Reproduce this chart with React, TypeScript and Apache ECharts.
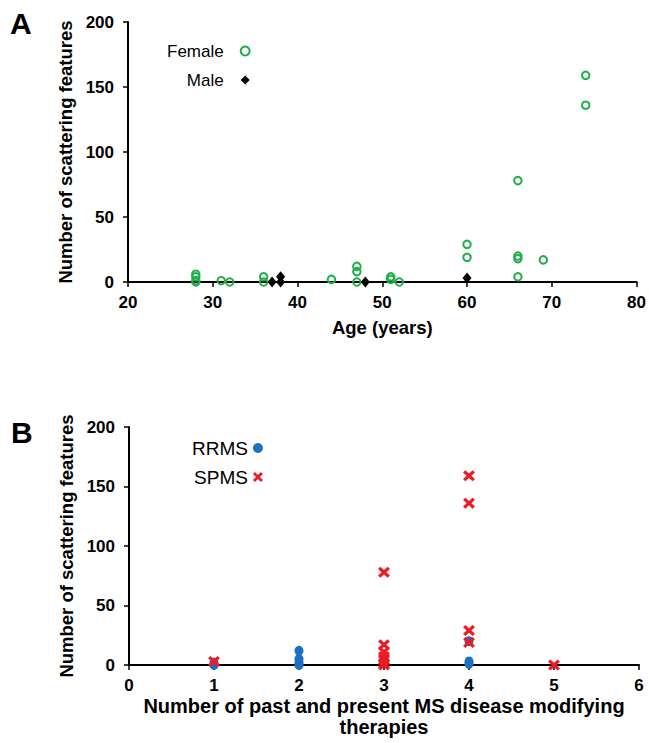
import React, { useEffect, useRef } from 'react';
import * as echarts from 'echarts';

// Panel A: age vs number of scattering features
const femaleAge = [28, 28, 28, 28, 31, 32, 36, 36, 44, 47, 47, 47, 51, 51, 52, 60, 60, 66, 66, 66, 66, 69, 74, 74];
const femaleCount = [6, 4, 1, 0, 1, 0, 4, 0, 2, 12, 8, 0, 4, 2, 0, 29, 19, 78, 20, 18, 4, 17, 159, 136];
const maleAge = [37, 38, 38, 48, 60];
const maleCount = [0, 4, 0, 0, 3];

// Panel B: number of therapies vs number of scattering features
const rrmsTherapies = [1, 1, 2, 2, 2, 2, 4, 4, 4];
const rrmsCount = [2, 0, 12, 5, 2, 0, 20, 3, 1];
const spmsTherapies = [1, 3, 3, 3, 3, 3, 3, 3, 4, 4, 4, 4, 5];
const spmsCount = [3, 78, 17, 11, 7, 4, 1, 0, 159, 136, 29, 19, 0];

const seriesNames = ['Female', 'Male', 'RRMS', 'SPMS'];
const panelLabels = ['A', 'B'];
const ageAxisName = 'Age (years)';
const therapyAxisName = 'Number of past and present MS disease modifying\ntherapies';
const countAxisName = 'Number of scattering features';

const FONT = '"Liberation Sans", Arial, Helvetica, sans-serif';
const GREEN = '#1fae4b';
const BLUE = '#1b70bf';
const RED = '#ec1c24';
const CROSS = 'path://M0,2 L2,0 L5,3 L8,0 L10,2 L7,5 L10,8 L8,10 L5,7 L2,10 L0,8 L3,5 Z';

const zip = (xs: number[], ys: number[]) => xs.map((x, i) => [x, ys[i]]);

export default function App() {
  const ref = useRef<HTMLDivElement>(null);
  useEffect(() => {
    if (!ref.current) return;
    const chart = echarts.init(ref.current, undefined, { renderer: 'svg' });
    const tickLabel = (margin: number) => ({
      color: '#000', fontSize: 17, fontWeight: 'bold', fontFamily: FONT, margin,
      formatter: '{b|{value}}',
      rich: { b: { color: '#000', fontSize: 17, fontWeight: 'bold', fontFamily: FONT } },
    });
    const axisCommon = {
      type: 'value' as const,
      splitLine: { show: false },
      axisLine: { show: true, onZero: false, lineStyle: { color: '#000', width: 2 } },
      axisTick: { show: true, length: 5, lineStyle: { color: '#000', width: 1.5 } },
      nameLocation: 'middle' as const,
      nameTextStyle: { color: '#000', fontSize: 18.5, fontWeight: 'bold', fontFamily: FONT },
    };
    chart.setOption({
      animation: false,
      backgroundColor: '#fff',
      textStyle: { fontFamily: FONT },
      graphic: [
        { type: 'text', left: 10, top: 8, style: { text: panelLabels[0], font: `bold 30px ${FONT}`, fill: '#000' } },
        { type: 'text', left: 11, top: 417, style: { text: panelLabels[1], font: `bold 30px ${FONT}`, fill: '#000' } },
      ],
      grid: [
        { left: 128, right: 12, top: 22, bottom: 461 },
        { left: 129, right: 10, top: 427, bottom: 78 },
      ],
      xAxis: [
        { ...axisCommon, gridIndex: 0, min: 20, max: 80, interval: 10, name: ageAxisName, nameGap: 36,
          axisLabel: tickLabel(12) },
        { ...axisCommon, gridIndex: 1, min: 0, max: 6, interval: 1, name: therapyAxisName, nameGap: 30,
          axisLabel: tickLabel(12),
          nameTextStyle: { ...axisCommon.nameTextStyle, fontSize: 20, lineHeight: 21 } },
      ],
      yAxis: [
        { ...axisCommon, gridIndex: 0, min: 0, max: 200, interval: 50, name: countAxisName, nameGap: 49,
          axisLabel: tickLabel(14) },
        { ...axisCommon, gridIndex: 1, min: 0, max: 200, interval: 50, name: countAxisName, nameGap: 49,
          axisLabel: tickLabel(14) },
      ],
      legend: [
        {
          orient: 'vertical', align: 'right', left: 162, top: 36, itemWidth: 9, itemHeight: 9, itemGap: 9,
          selectedMode: false,
          textStyle: { color: '#000', fontSize: 17, fontFamily: FONT, lineHeight: 20, padding: [0, 12, 0, 0] },
          data: [
            { name: seriesNames[0], icon: 'circle', itemStyle: { color: 'rgba(0,0,0,0)', borderColor: GREEN, borderWidth: 2 } },
            { name: seriesNames[1], icon: 'diamond', itemStyle: { color: '#000', borderWidth: 0 } },
          ],
        },
        {
          orient: 'vertical', align: 'right', left: 187, top: 433, itemWidth: 10, itemHeight: 10, itemGap: 9,
          selectedMode: false,
          textStyle: { color: '#000', fontSize: 19, fontFamily: FONT, lineHeight: 20 },
          data: [
            { name: seriesNames[2], icon: 'circle', itemStyle: { color: BLUE, borderWidth: 0 } },
            { name: seriesNames[3], icon: CROSS, itemStyle: { color: RED, borderWidth: 0 } },
          ],
        },
      ],
      series: [
        {
          name: seriesNames[0], type: 'scatter', xAxisIndex: 0, yAxisIndex: 0,
          data: zip(femaleAge, femaleCount), symbol: 'circle', symbolSize: 7.5,
          itemStyle: { color: 'rgba(0,0,0,0)', borderColor: GREEN, borderWidth: 2, opacity: 1 },
        },
        {
          name: seriesNames[1], type: 'scatter', xAxisIndex: 0, yAxisIndex: 0,
          data: zip(maleAge, maleCount), symbol: 'diamond', symbolSize: [9, 11],
          itemStyle: { color: '#000', opacity: 1 },
        },
        {
          name: seriesNames[2], type: 'scatter', xAxisIndex: 1, yAxisIndex: 1,
          data: zip(rrmsTherapies, rrmsCount), symbol: 'circle', symbolSize: [9, 10],
          itemStyle: { color: BLUE, opacity: 1 },
        },
        {
          name: seriesNames[3], type: 'scatter', xAxisIndex: 1, yAxisIndex: 1,
          data: zip(spmsTherapies, spmsCount), symbol: CROSS, symbolSize: [12, 11],
          itemStyle: { color: RED, opacity: 1 },
        },
      ],
    });
    return () => chart.dispose();
  }, []);
  return (
    <div
      ref={ref}
      style={{ position: 'fixed', left: 0, top: 0, width: 649, height: 743, background: '#fff' }}
    />
  );
}
